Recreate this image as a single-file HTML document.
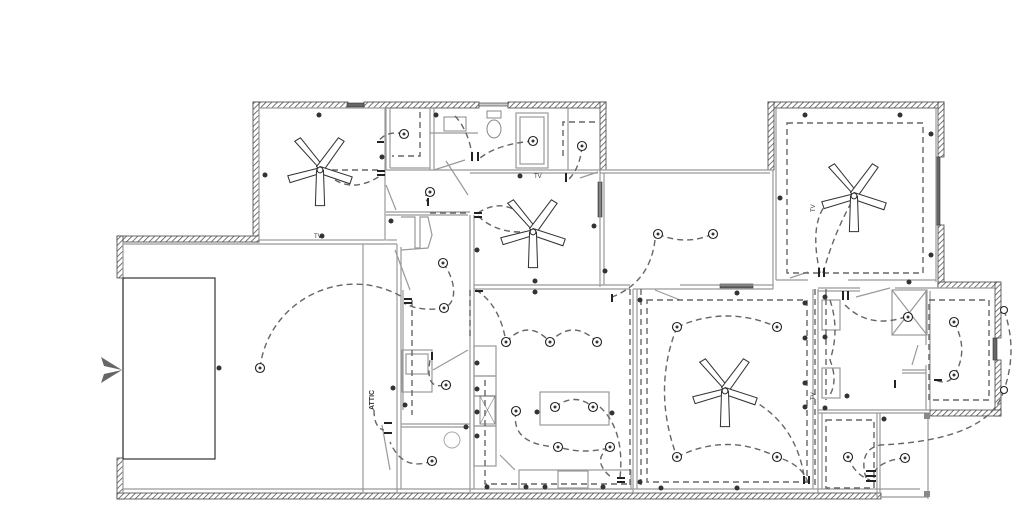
<!DOCTYPE html>
<html><head><meta charset="utf-8"><style>
html,body{margin:0;padding:0;background:#fff;}
svg{display:block;}
</style></head><body>
<svg width="1024" height="528" viewBox="0 0 1024 528" xmlns="http://www.w3.org/2000/svg">
<defs>
<pattern id="h" width="4" height="4" patternUnits="userSpaceOnUse" patternTransform="rotate(45)">
<rect width="4" height="4" fill="#fff"/><line x1="0" y1="0" x2="0" y2="4" stroke="#555" stroke-width="1.6"/>
</pattern>
</defs>
<rect width="1024" height="528" fill="#fff"/>
<g fill="url(#h)" stroke="#444" stroke-width="0.8">
<rect x="253" y="102" width="95" height="6"/>
<rect x="364" y="102" width="115" height="6"/>
<rect x="508" y="102" width="98" height="6"/>
<rect x="253" y="102" width="6" height="140"/>
<rect x="600" y="102" width="6" height="68"/>
<rect x="117" y="236" width="142" height="6"/>
<rect x="117" y="236" width="6" height="42"/>
<rect x="117" y="458" width="6" height="41"/>
<rect x="117" y="493" width="764" height="6"/>
<rect x="768" y="102" width="176" height="6"/>
<rect x="768" y="102" width="6" height="68"/>
<rect x="938" y="102" width="6" height="55"/>
<rect x="938" y="225" width="6" height="62"/>
<rect x="938" y="282" width="62" height="6"/>
<rect x="995" y="282" width="6" height="56"/>
<rect x="995" y="360" width="6" height="56"/>
<rect x="930" y="410" width="71" height="6"/>
</g>
<g fill="#666" stroke="#333" stroke-width="0.6">
<rect x="347" y="103" width="17" height="4"/>
<rect x="479" y="103" width="29" height="3" fill="#ccc"/>
<rect x="598" y="182" width="4" height="35"/>
<rect x="720" y="284" width="33" height="4"/>
<rect x="936" y="157" width="4" height="68"/>
<rect x="993" y="338" width="4" height="22"/>
</g>
<g fill="none" stroke="#999" stroke-width="1.2">
<rect x="259" y="108" width="126" height="132"/>
<line x1="123" y1="242" x2="123" y2="493"/>
<line x1="123" y1="244" x2="397" y2="244"/>
<line x1="363" y1="244" x2="363" y2="493"/>
<line x1="123" y1="489" x2="920" y2="489"/>
<line x1="386" y1="108" x2="386" y2="170"/>
<line x1="390" y1="108" x2="390" y2="168"/>
<line x1="430" y1="108" x2="430" y2="170"/>
<line x1="434" y1="108" x2="434" y2="170"/>
<line x1="390" y1="168" x2="430" y2="168"/>
<line x1="434" y1="170" x2="465" y2="160"/>
<line x1="470" y1="170" x2="600" y2="170"/>
<line x1="470" y1="173" x2="598" y2="173"/>
<line x1="600" y1="170" x2="773" y2="170"/>
<line x1="600" y1="173" x2="770" y2="173"/>
<line x1="568" y1="108" x2="568" y2="170"/>
<line x1="430" y1="133" x2="478" y2="133"/>
<rect x="516" y="113" width="32" height="55"/>
<rect x="520" y="117" width="24" height="47"/>
<line x1="600" y1="170" x2="600" y2="287"/>
<line x1="604" y1="173" x2="604" y2="285"/>
<line x1="470" y1="215" x2="470" y2="493"/>
<line x1="474" y1="215" x2="474" y2="489"/>
<line x1="474" y1="285" x2="630" y2="285"/>
<line x1="474" y1="289" x2="630" y2="289"/>
<line x1="680" y1="285" x2="773" y2="285"/>
<line x1="680" y1="289" x2="773" y2="289"/>
<line x1="773" y1="170" x2="773" y2="289"/>
<line x1="776" y1="108" x2="776" y2="280"/>
<line x1="936" y1="108" x2="936" y2="282"/>
<line x1="776" y1="280" x2="808" y2="280"/>
<line x1="848" y1="280" x2="936" y2="280"/>
<line x1="397" y1="244" x2="397" y2="493"/>
<line x1="401" y1="247" x2="401" y2="489"/>
<line x1="386" y1="212" x2="470" y2="212"/>
<line x1="386" y1="215" x2="468" y2="215"/>
<line x1="386" y1="240" x2="397" y2="240"/>
<polyline points="401,217 415,217 415,248 420,248 420,217 428,217 432,235 428,248 401,250"/>
<line x1="403" y1="290" x2="403" y2="410"/>
<rect x="402" y="350" width="30" height="42"/>
<rect x="406" y="354" width="22" height="20"/>
<line x1="401" y1="424" x2="470" y2="424"/>
<line x1="401" y1="427" x2="470" y2="427"/>
<line x1="433" y1="370" x2="468" y2="350"/>
<line x1="633" y1="289" x2="633" y2="493"/>
<line x1="637" y1="289" x2="637" y2="489"/>
<line x1="633" y1="289" x2="680" y2="289"/>
<line x1="813" y1="289" x2="813" y2="489"/>
<line x1="818" y1="289" x2="818" y2="493"/>
<line x1="818" y1="288" x2="860" y2="288"/>
<line x1="895" y1="288" x2="995" y2="288"/>
<line x1="818" y1="291" x2="860" y2="291"/>
<line x1="930" y1="291" x2="930" y2="410"/>
<line x1="926" y1="291" x2="926" y2="345"/>
<line x1="926" y1="365" x2="926" y2="410"/>
<rect x="892" y="290" width="35" height="45"/>
<line x1="892" y1="290" x2="927" y2="335"/>
<line x1="927" y1="290" x2="892" y2="335"/>
<line x1="902" y1="370" x2="926" y2="370"/>
<line x1="902" y1="373" x2="926" y2="373"/>
<line x1="818" y1="410" x2="930" y2="410"/>
<line x1="818" y1="413" x2="930" y2="413"/>
<line x1="877" y1="413" x2="877" y2="497"/>
<line x1="880" y1="413" x2="880" y2="493"/>
<line x1="822" y1="413" x2="822" y2="489"/>
<line x1="928" y1="413" x2="928" y2="499"/>
<line x1="880" y1="497" x2="928" y2="497"/>
<rect x="822" y="300" width="18" height="30"/>
<rect x="822" y="368" width="18" height="30"/>
<rect x="474" y="346" width="22" height="30"/>
<rect x="474" y="376" width="22" height="20"/>
<rect x="474" y="396" width="22" height="30"/>
<rect x="474" y="426" width="22" height="40"/>
<rect x="540" y="392" width="69" height="33"/>
<rect x="519" y="470" width="112" height="19"/>
<rect x="558" y="471" width="30" height="17"/>
<line x1="386" y1="170" x2="470" y2="170"/>
<line x1="446" y1="161" x2="468" y2="195"/>
<line x1="386" y1="185" x2="396" y2="210"/>
<line x1="395" y1="250" x2="410" y2="290"/>
<line x1="382" y1="425" x2="390" y2="470"/>
<line x1="500" y1="455" x2="515" y2="470"/>
<line x1="655" y1="290" x2="680" y2="300"/>
<line x1="856" y1="297" x2="890" y2="288"/>
<line x1="580" y1="178" x2="598" y2="172"/>
<line x1="790" y1="278" x2="808" y2="272"/>
<line x1="918" y1="345" x2="912" y2="365"/>
</g>
<rect x="480" y="396" width="15" height="28" fill="none" stroke="#777" stroke-width="0.8"/>
<line x1="480" y1="396" x2="495" y2="424" stroke="#777" stroke-width="0.6"/>
<line x1="495" y1="396" x2="480" y2="424" stroke="#777" stroke-width="0.6"/>
<rect x="924" y="413" width="6" height="6" fill="#888"/>
<rect x="924" y="491" width="6" height="6" fill="#888"/>
<rect x="123" y="278" width="92" height="181" fill="none" stroke="#333" stroke-width="1.2"/>
<polygon points="122,370 101,357 104,366" fill="#666"/>
<polygon points="122,370 101,383 104,374" fill="#666"/>
<ellipse cx="494" cy="129" rx="7" ry="9" fill="none" stroke="#888"/>
<rect x="487" y="111" width="14" height="7" fill="none" stroke="#888"/>
<rect x="444" y="117" width="22" height="14" fill="none" stroke="#888"/>
<g fill="none" stroke="#666" stroke-width="1.4" stroke-dasharray="6,4">
<rect x="787" y="123" width="136" height="150"/>
<rect x="647" y="300" width="160" height="182"/>
<rect x="929" y="300" width="60" height="100"/>
<rect x="826" y="420" width="48" height="68"/>
<polyline points="420,112 420,156 392,156"/>
<polyline points="563,156 563,122 598,122"/>
<polyline points="430,213 470,213"/>
<polyline points="485,380 485,484 630,484"/>
<line x1="630" y1="289" x2="630" y2="489"/>
<line x1="641" y1="289" x2="641" y2="489"/>
<line x1="815" y1="289" x2="815" y2="489"/>
<line x1="826" y1="289" x2="826" y2="400"/>
<line x1="470" y1="290" x2="470" y2="340"/>
<line x1="412" y1="300" x2="412" y2="415"/>
<path d="M260,368 C268,300 345,262 404,298"/>
<path d="M443,263 C456,280 458,303 444,308 Q420,312 404,303"/>
<path d="M322,170 L380,170"/>
<path d="M335,180 Q355,192 380,176"/>
<path d="M404,134 Q386,130 378,142"/>
<path d="M455,116 Q470,132 473,162"/>
<path d="M533,141 Q498,144 480,158"/>
<path d="M582,146 Q580,170 566,182"/>
<path d="M430,192 Q422,196 428,202"/>
<path d="M478,213 Q505,195 530,222"/>
<path d="M478,216 Q495,232 520,232"/>
<path d="M658,234 Q685,246 713,234"/>
<path d="M655,240 Q650,282 612,297"/>
<path d="M476,290 Q500,305 506,342"/>
<path d="M506,342 Q528,318 550,342 Q573,318 597,342"/>
<path d="M444,385 Q425,390 430,360"/>
<path d="M516,411 Q510,445 558,447 Q585,455 612,447"/>
<path d="M555,407 Q575,392 593,407"/>
<path d="M600,407 Q625,430 620,478"/>
<path d="M610,447 Q590,460 612,478"/>
<path d="M432,461 Q403,472 390,442"/>
<path d="M374,410 Q374,428 384,430"/>
<path d="M677,327 Q727,305 777,327"/>
<path d="M677,327 Q652,390 677,457"/>
<path d="M677,457 Q727,432 777,457 Q803,465 808,483"/>
<path d="M742,395 Q798,420 805,483"/>
<path d="M820,273 Q808,220 830,200"/>
<path d="M823,273 Q835,230 854,198"/>
<path d="M845,305 Q870,330 908,316"/>
<path d="M954,322 Q970,352 953,377 Q947,385 935,380"/>
<path d="M1004,310 Q1018,350 1004,390"/>
<path d="M1004,390 Q990,440 880,445 Q858,450 866,478"/>
<path d="M848,457 Q855,475 870,480"/>
<path d="M905,458 Q880,460 872,475"/>
<path d="M830,300 Q840,330 830,360 Q838,380 830,395"/>
</g>
<g fill="#fff" stroke="#333" stroke-width="0.9">
<g transform="translate(320,170) scale(1.15)">
<polygon points="-2,-3 -22,-25 -17,-28 3,-3"/><polygon points="-3,-3 16,-28 21,-25 2,2"/>
<polygon points="0,-2 -28,5 -26,11 0,3"/><polygon points="0,-3 28,6 26,12 0,3"/>
<polygon points="-3,0 -4,31 4,31 3,0"/><circle r="2.5"/></g>
<g transform="translate(533,232) scale(1.15)">
<polygon points="-2,-3 -22,-25 -17,-28 3,-3"/><polygon points="-3,-3 16,-28 21,-25 2,2"/>
<polygon points="0,-2 -28,5 -26,11 0,3"/><polygon points="0,-3 28,6 26,12 0,3"/>
<polygon points="-3,0 -4,31 4,31 3,0"/><circle r="2.5"/></g>
<g transform="translate(854,196) scale(1.15)">
<polygon points="-2,-3 -22,-25 -17,-28 3,-3"/><polygon points="-3,-3 16,-28 21,-25 2,2"/>
<polygon points="0,-2 -28,5 -26,11 0,3"/><polygon points="0,-3 28,6 26,12 0,3"/>
<polygon points="-3,0 -4,31 4,31 3,0"/><circle r="2.5"/></g>
<g transform="translate(725,391) scale(1.15)">
<polygon points="-2,-3 -22,-25 -17,-28 3,-3"/><polygon points="-3,-3 16,-28 21,-25 2,2"/>
<polygon points="0,-2 -28,5 -26,11 0,3"/><polygon points="0,-3 28,6 26,12 0,3"/>
<polygon points="-3,0 -4,31 4,31 3,0"/><circle r="2.5"/></g>
</g>
<g fill="#fff" stroke="#222" stroke-width="1.1">
<circle cx="404" cy="134" r="4.5"/><circle cx="533" cy="141" r="4.5"/><circle cx="582" cy="146" r="4.5"/>
<circle cx="430" cy="192" r="4.5"/><circle cx="443" cy="263" r="4.5"/><circle cx="444" cy="308" r="4.5"/>
<circle cx="260" cy="368" r="4.5"/><circle cx="446" cy="385" r="4.5"/><circle cx="432" cy="461" r="4.5"/>
<circle cx="658" cy="234" r="4.5"/><circle cx="713" cy="234" r="4.5"/>
<circle cx="506" cy="342" r="4.5"/><circle cx="550" cy="342" r="4.5"/><circle cx="597" cy="342" r="4.5"/>
<circle cx="516" cy="411" r="4.5"/><circle cx="555" cy="407" r="4.5"/><circle cx="593" cy="407" r="4.5"/>
<circle cx="558" cy="447" r="4.5"/><circle cx="610" cy="447" r="4.5"/>
<circle cx="677" cy="327" r="4.5"/><circle cx="777" cy="327" r="4.5"/><circle cx="677" cy="457" r="4.5"/><circle cx="777" cy="457" r="4.5"/>
<circle cx="908" cy="317" r="4.5"/><circle cx="954" cy="322" r="4.5"/><circle cx="954" cy="375" r="4.5"/>
<circle cx="848" cy="457" r="4.5"/><circle cx="905" cy="458" r="4.5"/>
<circle cx="1004" cy="310" r="3.5"/><circle cx="1004" cy="390" r="3.5"/>
</g>
<g fill="#333">
<circle cx="404" cy="134" r="1.5"/><circle cx="533" cy="141" r="1.5"/><circle cx="582" cy="146" r="1.5"/>
<circle cx="430" cy="192" r="1.5"/><circle cx="443" cy="263" r="1.5"/><circle cx="444" cy="308" r="1.5"/>
<circle cx="260" cy="368" r="1.5"/><circle cx="446" cy="385" r="1.5"/><circle cx="432" cy="461" r="1.5"/>
<circle cx="658" cy="234" r="1.5"/><circle cx="713" cy="234" r="1.5"/><circle cx="506" cy="342" r="1.5"/>
<circle cx="550" cy="342" r="1.5"/><circle cx="597" cy="342" r="1.5"/><circle cx="516" cy="411" r="1.5"/>
<circle cx="555" cy="407" r="1.5"/><circle cx="593" cy="407" r="1.5"/><circle cx="558" cy="447" r="1.5"/>
<circle cx="610" cy="447" r="1.5"/><circle cx="677" cy="327" r="1.5"/><circle cx="777" cy="327" r="1.5"/>
<circle cx="677" cy="457" r="1.5"/><circle cx="777" cy="457" r="1.5"/><circle cx="908" cy="317" r="1.5"/>
<circle cx="954" cy="322" r="1.5"/><circle cx="954" cy="375" r="1.5"/><circle cx="848" cy="457" r="1.5"/>
<circle cx="905" cy="458" r="1.5"/>
<circle cx="319" cy="115" r="2.5"/><circle cx="265" cy="175" r="2.5"/><circle cx="322" cy="236" r="2.5"/>
<circle cx="382" cy="157" r="2.5"/><circle cx="436" cy="115" r="2.5"/><circle cx="520" cy="176" r="2.5"/>
<circle cx="391" cy="221" r="2.5"/><circle cx="477" cy="250" r="2.5"/><circle cx="535" cy="281" r="2.5"/>
<circle cx="594" cy="226" r="2.5"/><circle cx="605" cy="271" r="2.5"/><circle cx="535" cy="292" r="2.5"/>
<circle cx="219" cy="368" r="2.5"/><circle cx="393" cy="388" r="2.5"/><circle cx="405" cy="405" r="2.5"/>
<circle cx="466" cy="427" r="2.5"/><circle cx="477" cy="363" r="2.5"/><circle cx="477" cy="389" r="2.5"/>
<circle cx="477" cy="412" r="2.5"/><circle cx="477" cy="436" r="2.5"/><circle cx="537" cy="412" r="2.5"/>
<circle cx="612" cy="413" r="2.5"/><circle cx="487" cy="487" r="2.5"/><circle cx="526" cy="487" r="2.5"/>
<circle cx="545" cy="487" r="2.5"/><circle cx="603" cy="487" r="2.5"/><circle cx="640" cy="300" r="2.5"/>
<circle cx="737" cy="293" r="2.5"/><circle cx="640" cy="482" r="2.5"/><circle cx="661" cy="488" r="2.5"/>
<circle cx="737" cy="488" r="2.5"/><circle cx="805" cy="338" r="2.5"/><circle cx="805" cy="383" r="2.5"/>
<circle cx="805" cy="303" r="2.5"/><circle cx="805" cy="407" r="2.5"/>
<circle cx="805" cy="115" r="2.5"/><circle cx="900" cy="115" r="2.5"/><circle cx="931" cy="134" r="2.5"/>
<circle cx="931" cy="255" r="2.5"/><circle cx="909" cy="282" r="2.5"/><circle cx="780" cy="198" r="2.5"/>
<circle cx="825" cy="297" r="2.5"/><circle cx="825" cy="337" r="2.5"/><circle cx="825" cy="408" r="2.5"/>
<circle cx="884" cy="419" r="2.5"/><circle cx="847" cy="396" r="2.5"/>
</g>
<g fill="#222">
<rect x="377" y="141" width="7" height="2"/><rect x="377" y="170" width="8" height="2"/><rect x="377" y="174" width="8" height="2"/>
<rect x="471" y="152" width="2" height="9"/><rect x="477" y="152" width="2" height="9"/><rect x="565" y="173" width="2" height="9"/>
<rect x="474" y="212" width="8" height="2"/><rect x="474" y="216" width="8" height="2"/><rect x="475" y="290" width="8" height="2"/>
<rect x="404" y="298" width="8" height="2"/><rect x="404" y="302" width="8" height="2"/><rect x="431" y="352" width="2" height="8"/>
<rect x="384" y="422" width="8" height="2"/><rect x="384" y="432" width="8" height="2"/>
<rect x="611" y="294" width="2" height="8"/><rect x="803" y="476" width="2" height="8"/><rect x="808" y="476" width="2" height="8"/>
<rect x="818" y="268" width="2" height="9"/><rect x="823" y="268" width="2" height="9"/>
<rect x="842" y="291" width="2" height="9"/><rect x="847" y="291" width="2" height="9"/>
<rect x="866" y="470" width="10" height="2"/><rect x="866" y="475" width="10" height="2"/><rect x="866" y="480" width="10" height="2"/>
<rect x="617" y="477" width="8" height="2"/><rect x="617" y="481" width="8" height="2"/>
<rect x="894" y="380" width="2" height="8"/><rect x="934" y="379" width="8" height="2"/>
<rect x="427" y="198" width="2" height="8"/>
</g>
<circle cx="452" cy="440" r="8" fill="none" stroke="#aaa"/>
<text x="0" y="0" transform="translate(374,410) rotate(-90)" font-family="Liberation Sans, sans-serif" font-size="7" font-weight="bold" fill="#333">ATTIC</text>
<text x="0" y="0" transform="translate(815,212) rotate(-90)" font-family="Liberation Sans, sans-serif" font-size="6" fill="#333">TV</text>
<text x="0" y="0" transform="translate(815,400) rotate(-90)" font-family="Liberation Sans, sans-serif" font-size="6" fill="#333">TV</text>
<text x="314" y="238" font-family="Liberation Sans, sans-serif" font-size="6" fill="#333">TV</text>
<text x="534" y="178" font-family="Liberation Sans, sans-serif" font-size="6" fill="#333">TV</text>
</svg>
</body></html>
